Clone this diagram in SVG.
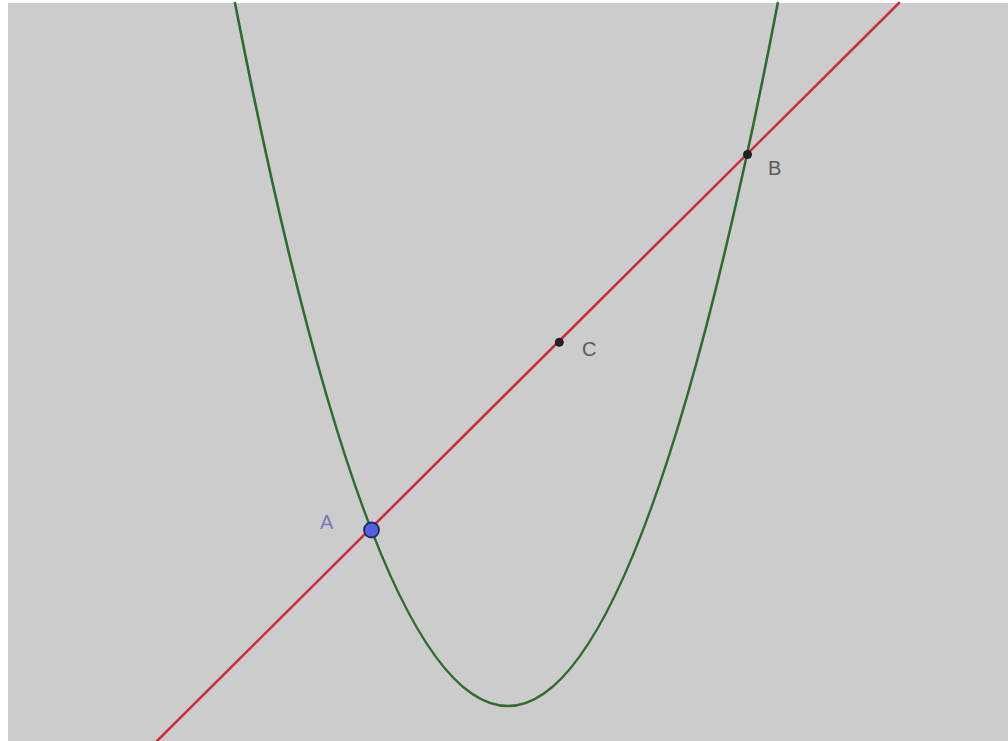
<svg xmlns="http://www.w3.org/2000/svg" width="1008" height="741" viewBox="0 0 1008 741">
<style>
.lbl{font-family:"Liberation Sans",Arial,sans-serif;font-size:20px;fill:#5a5a5a}
.pt{fill:#222;stroke:#111;stroke-width:1}
</style>
<rect x="0" y="0" width="1008" height="741" fill="#ffffff"/>
<rect x="8" y="3" width="1000" height="738" fill="#cccccc"/>
<g id="connectors" fill="none" stroke-linecap="round">
<path id="parabola" d="M235,3 Q371.5,706 508,706 Q642.9,706 777.8,3" stroke="#2f6b2f" stroke-width="2.6"/>
<line id="line-AB" x1="157" y1="741" x2="899" y2="3" stroke="#c8303f" stroke-width="2.6"/>
</g>
<g id="node-A">
<circle cx="371.5" cy="530" r="7.5" fill="#5560e0" stroke="#1f2a5a" stroke-width="1.8"/>
<text x="320" y="529" class="lbl" style="fill:#7878b0">A</text>
</g>
<g id="node-B">
<circle class="pt" cx="747.5" cy="154.5" r="4"/>
<text x="768" y="175" class="lbl">B</text>
</g>
<g id="node-C">
<circle class="pt" cx="559.3" cy="342.3" r="4"/>
<text x="582" y="356" class="lbl">C</text>
</g>
</svg>
